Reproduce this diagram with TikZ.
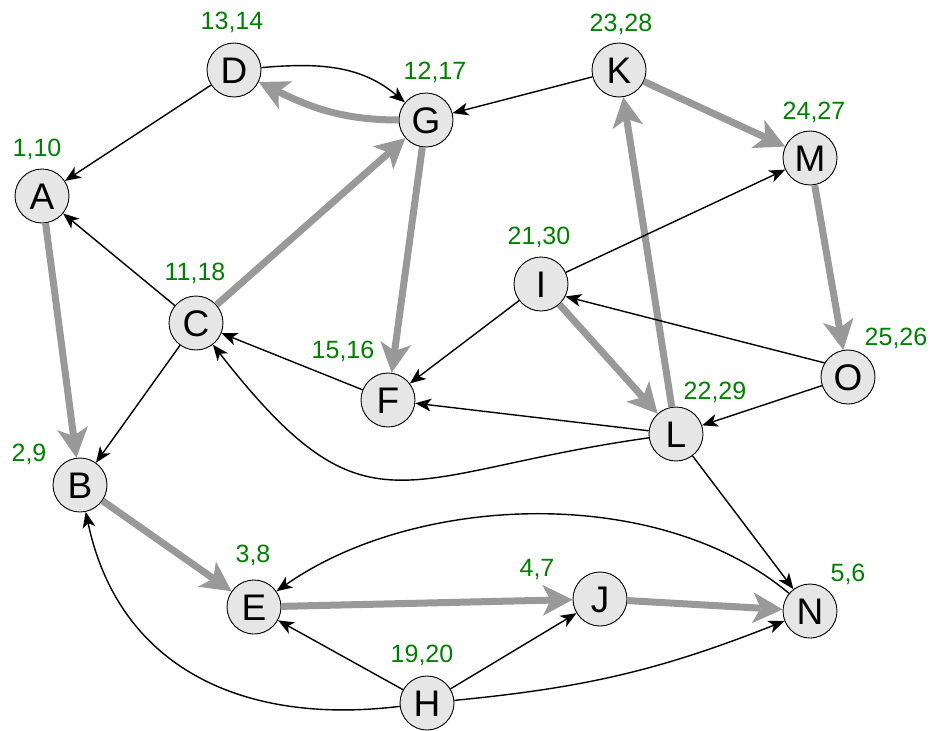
\documentclass[tikz,border=0pt]{standalone}
\usepackage{fontspec}
\setmainfont{Liberation Sans}
\usetikzlibrary{arrows.meta}
\definecolor{nodefill}{RGB}{230,230,230}
\definecolor{edgegray}{RGB}{153,153,153}
\definecolor{labgreen}{RGB}{0,128,0}
\begin{document}
\begin{tikzpicture}[x=1pt,y=1pt,
  vtx/.style={circle, draw=black, line width=0.9pt, fill=nodefill, minimum size=54pt, inner sep=0pt,
    font=\fontsize{37}{40}\selectfont, text height=26.5pt, text depth=0pt},
  lab/.style={text=labgreen, font=\fontsize{25}{29}\selectfont, inner sep=0pt, text height=17.9pt, text depth=0pt},
  blk/.style={draw=black, line width=1.4pt, -{Stealth[length=16pt,width=13pt,inset=4.5pt,line width=0pt]}},
  gry/.style={draw=edgegray, line width=7pt, -{Stealth[length=30pt,width=31pt,inset=8pt,line width=0pt]}},
]
\useasboundingbox (0,0) rectangle (935,-731);
\fill[white] (0,0) rectangle (935,-731);

% vertices
\node[vtx] (A) at (42,-196) {A};
\node[vtx] (B) at (80,-485) {B};
\node[vtx] (C) at (196,-323) {C};
\node[vtx] (D) at (234,-70) {D};
\node[vtx] (E) at (254,-607) {E};
\node[vtx] (F) at (388,-400) {F};
\node[vtx] (G) at (426,-120) {G};
\node[vtx] (H) at (427,-703) {H};
\node[vtx] (I) at (541,-284) {I};
\node[vtx] (J) at (600,-599) {J};
\node[vtx] (K) at (619,-70) {K};
\node[vtx] (L) at (676,-434) {L};
\node[vtx] (M) at (810,-158) {M};
\node[vtx] (N) at (810,-611) {N};
\node[vtx] (O) at (848,-377) {O};

% labels
\node[lab] (lD) at (232,-21) {13,14};
\node[lab] (lG) at (435,-71) {12,17};
\node[lab] (lK) at (621,-23) {23,28};
\node[lab] (lM) at (814,-111) {24,27};
\node[lab] (lA) at (37,-148) {1,10};
\node[lab] (lC) at (195,-272) {11,18};
\node[lab] (lI) at (539,-236) {21,30};
\node[lab] (lO) at (896,-337) {25,26};
\node[lab] (lL) at (715,-391) {22,29};
\node[lab] (lF) at (343,-350) {15,16};
\node[lab] (lB) at (29,-453) {2,9};
\node[lab] (lE) at (253,-554) {3,8};
\node[lab] (lJ) at (537,-568) {4,7};
\node[lab] (lH) at (422,-654) {19,20};
\node[lab] (lN) at (848,-573) {5,6};

% gray (tree) edges
\draw[gry] (G) to[out=180,in=-26] (D);
\draw[gry] (C) -- (G);
\draw[gry] (G) -- (F);
\draw[gry] (A) -- (B);
\draw[gry] (B) -- (E);
\draw[gry] (E) -- (J);
\draw[gry] (J) -- (N);
\draw[gry] (K) -- (M);
\draw[gry] (M) -- (O);
\draw[gry] (I) -- (L);
\draw[gry] (L) -- (K);

% black edges
\draw[blk] (D) to[out=5,in=140] (G);
\draw[blk] (D) -- (A);
\draw[blk] (K) -- (G);
\draw[blk] (C) -- (A);
\draw[blk] (C) -- (B);
\draw[blk] (F) -- (C);
\draw[blk] (I) -- (F);
\draw[blk] (I) -- (M);
\draw[blk] (O.149) -- (I.-27);
\draw[blk] (O) -- (L);
\draw[blk] (L) -- (F);
\draw[blk] (L) to[out=188,in=-52,looseness=1.45] (C);
\draw[blk] (L) -- (N);
\draw[blk] (N) to[out=140,in=35,looseness=0.85] (E);
\draw[blk] (H) -- (E);
\draw[blk] (H) -- (J);
\draw[blk] (H) to[bend right=8] (N);
\draw[blk] (H) to[out=187,in=-78,looseness=1.1] (B);
\end{tikzpicture}
\end{document}
